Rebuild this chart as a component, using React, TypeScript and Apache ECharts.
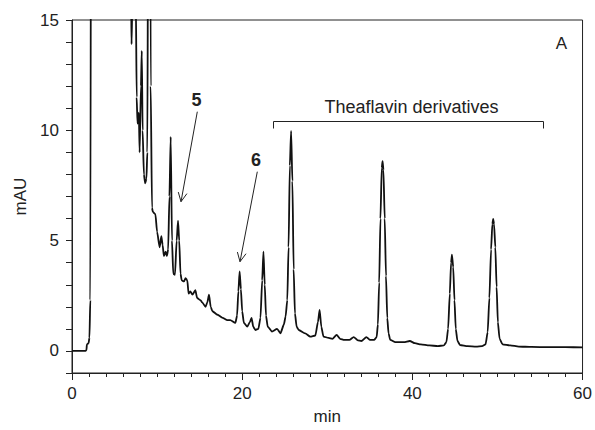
import React, { useEffect, useRef } from "react";
import * as echarts from "echarts";

// Chromatogram trace (retention time in min, absorbance in mAU)
const times: number[] = [
  0, 1.6, 1.7, 1.75, 1.95, 2.05, 2.15, 2.3, 6.8, 6.95, 7.0, 7.1, 7.3, 7.5, 7.6, 7.7, 7.85, 7.95,
  8.1, 8.2, 8.3, 8.45, 8.6, 8.75, 8.85, 8.95, 9.1, 9.25, 9.4, 9.5, 9.8, 10.0, 10.3, 10.5, 10.65,
  10.8, 11.0, 11.15, 11.3, 11.45, 11.6, 11.75, 11.9, 12.1, 12.3, 12.46, 12.6, 12.75, 12.9, 13.15,
  13.35, 13.55, 13.7, 13.9, 14.15, 14.5, 14.7, 15.1, 15.3, 15.7, 15.9, 16.1, 16.3, 16.5, 17.1,
  17.7, 18.25, 18.6, 19.2, 19.4, 19.55, 19.7, 19.85, 20.0, 20.2, 20.6, 20.9, 21.1, 21.3, 21.55,
  21.9, 22.15, 22.35, 22.5, 22.65, 22.8, 23.0, 23.5, 24.1, 24.5, 24.9, 25.1, 25.3, 25.45, 25.6,
  25.75, 25.9, 26.05, 26.2, 26.4, 26.65, 27.4, 28.0, 28.6, 28.9, 29.1, 29.3, 29.55, 30.15, 30.6,
  31.1, 31.5, 32.0, 32.6, 33.1, 33.6, 34.0, 34.6, 35.0, 35.5, 35.8, 35.95, 36.1, 36.25, 36.4,
  36.5, 36.6, 36.75, 36.9, 37.05, 37.2, 37.4, 38.0, 39.0, 39.7, 40.3, 41.0, 42.0, 43.0, 43.7,
  44.0, 44.2, 44.4, 44.55, 44.65, 44.8, 44.95, 45.1, 45.3, 45.6, 46.5, 47.5, 48.2, 48.6, 48.85,
  49.05, 49.25, 49.4, 49.5, 49.6, 49.75, 49.9, 50.05, 50.25, 50.6, 51.5, 52.5, 54, 56, 58, 60,
];
const mau: number[] = [
  0, 0, 0.05, 0.3, 0.35, 0.6, 2.3, 40, 40, 16, 13.9, 16, 30, 16, 11.5, 10.3, 10.8, 9.0,
  12, 13.6, 10, 8.0, 7.6, 7.8, 9, 20, 40, 12, 6.5, 6.3, 6.2, 5.4, 4.7, 5.2, 4.8,
  4.3, 4.5, 4.3, 4.6, 7.0, 9.7, 5.0, 3.5, 3.45, 5.0, 5.9, 5.0, 3.5, 3.2, 3.15,
  3.3, 3.2, 2.6, 2.7, 2.55, 2.75, 2.4, 2.3, 2.2, 2.0, 2.2, 2.55, 2.0, 1.8, 1.64,
  1.5, 1.4, 1.4, 1.27, 1.6, 2.7, 3.6, 2.8, 1.8, 1.27, 1.1, 1.3, 1.5, 1.1, 0.95,
  1.0, 1.5, 3.2, 4.5, 3.0, 1.6, 1.1, 0.88, 1.0, 0.8, 1.2, 1.56, 2.3, 4.7, 8.4,
  9.97, 7.7, 3.7, 1.7, 1.1, 0.95, 0.8, 0.65, 0.7, 1.3, 1.86, 1.1, 0.65, 0.59, 0.55,
  0.73, 0.55, 0.5, 0.5, 0.63, 0.48, 0.45, 0.63, 0.5, 0.5, 0.62, 1.2, 3.1, 6.0, 8.3,
  8.6, 8.2, 6.0, 3.4, 1.5, 0.8, 0.5, 0.4, 0.4, 0.45, 0.35, 0.3, 0.25, 0.22, 0.25,
  0.4, 1.0, 2.6, 4.0, 4.36, 3.8, 2.3, 1.0, 0.45, 0.27, 0.22, 0.2, 0.22, 0.3, 0.85,
  2.4, 4.6, 5.75, 5.98, 5.75, 4.7, 2.9, 1.3, 0.55, 0.3, 0.25, 0.2, 0.18, 0.17, 0.17, 0.16,
];

const xTickLabels: number[] = [0, 20, 40, 60];
const yTickLabels: number[] = [0, 5, 10, 15];

const FONT = "'Liberation Sans', Arial, sans-serif";

function arrow(x1: number, y1: number, x2: number, y2: number) {
  const dx = x2 - x1;
  const dy = y2 - y1;
  const len = Math.sqrt(dx * dx + dy * dy);
  const ux = dx / len;
  const uy = dy / len;
  const head = 10;
  const ang = (26 * Math.PI) / 180;
  const rot = (a: number) => [
    x2 - head * (ux * Math.cos(a) - uy * Math.sin(a)),
    y2 - head * (ux * Math.sin(a) + uy * Math.cos(a)),
  ];
  const p1 = rot(ang);
  const p2 = rot(-ang);
  return [
    { type: "line", shape: { x1, y1, x2, y2 }, style: { stroke: "#222", lineWidth: 1 }, z: 10 },
    {
      type: "polyline",
      shape: { points: [p1, [x2, y2], p2] },
      style: { stroke: "#222", lineWidth: 1, fill: null },
      z: 10,
    },
  ];
}

export default function App() {
  const ref = useRef<HTMLDivElement>(null);
  useEffect(() => {
    if (!ref.current) return;
    const chart = echarts.init(ref.current, null, { renderer: "svg" });
    const data = times.map((t, i) => [t, mau[i]]);
    chart.setOption({
      animation: false,
      backgroundColor: "#fff",
      textStyle: { fontFamily: FONT },
      grid: {
        left: 72,
        top: 20,
        right: 12,
        bottom: 56,
        show: true,
        borderColor: "#222",
        borderWidth: 1,
        backgroundColor: "transparent",
      },
      xAxis: {
        type: "value",
        min: 0,
        max: 60,
        interval: 20,
        name: "min",
        nameLocation: "middle",
        nameGap: 35,
        nameTextStyle: { fontSize: 17, color: "#222", fontFamily: FONT },
        axisLine: { onZero: false, lineStyle: { color: "#222", width: 1 } },
        axisTick: { show: true, inside: false, length: 7, lineStyle: { color: "#222" } },
        minorTick: { show: true, splitNumber: 10, length: 4, lineStyle: { color: "#222" } },
        axisLabel: {
          fontSize: 17,
          color: "#222",
          margin: 12,
          fontFamily: FONT,
          formatter: (v: number) => (xTickLabels.includes(v) ? String(v) : ""),
        },
        splitLine: { show: false },
        minorSplitLine: { show: false },
      },
      yAxis: {
        type: "value",
        min: -1,
        max: 15,
        interval: 1,
        name: "mAU",
        nameLocation: "middle",
        nameGap: 43,
        nameTextStyle: { fontSize: 17, color: "#222", fontFamily: FONT },
        axisLine: { onZero: false, lineStyle: { color: "#222", width: 1 } },
        axisTick: { show: true, inside: false, length: 6, lineStyle: { color: "#222" } },
        axisLabel: {
          fontSize: 17,
          color: "#222",
          margin: 13,
          fontFamily: FONT,
          formatter: (v: number) => (yTickLabels.includes(v) ? String(v) : ""),
        },
        splitLine: { show: false },
      },
      series: [
        {
          type: "line",
          data,
          showSymbol: false,
          clip: true,
          smooth: 0.2,
          smoothMonotone: "x",
          lineStyle: { color: "#111", width: 1.8 },
          z: 5,
        },
      ],
      graphic: [
        {
          type: "text",
          x: 561.5,
          y: 43,
          style: {
            text: "A",
            font: `17px ${FONT}`,
            fill: "#222",
            align: "center",
            verticalAlign: "middle",
          },
        },
        {
          type: "text",
          x: 196.5,
          y: 100,
          style: {
            text: "5",
            font: `bold 18px ${FONT}`,
            fill: "#222",
            align: "center",
            verticalAlign: "middle",
          },
        },
        {
          type: "text",
          x: 256,
          y: 160,
          style: {
            text: "6",
            font: `bold 18px ${FONT}`,
            fill: "#222",
            align: "center",
            verticalAlign: "middle",
          },
        },
        ...arrow(197.3, 111.7, 181, 201.7),
        ...arrow(257.3, 171.7, 240, 261.7),
        {
          type: "text",
          x: 411.5,
          y: 107,
          style: {
            text: "Theaflavin derivatives",
            font: `18px ${FONT}`,
            fill: "#222",
            align: "center",
            verticalAlign: "middle",
          },
        },
        {
          type: "polyline",
          shape: { points: [[273.5, 128.5], [273.5, 121.5], [543.5, 121.5], [543.5, 128.5]] },
          style: { stroke: "#222", lineWidth: 1, fill: null },
        },
      ],
    });
    return () => chart.dispose();
  }, []);
  return (
    <div
      ref={ref}
      style={{ position: "fixed", left: 0, top: 0, width: 595, height: 430, background: "#fff" }}
    />
  );
}
